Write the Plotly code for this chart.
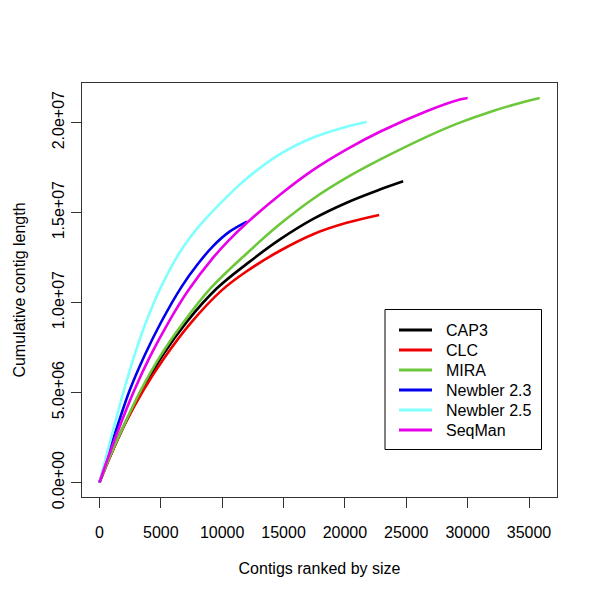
import plotly.graph_objects as go

# Data (x = contig rank, y = cumulative length in bp)
cap3_x = [0, 870, 2090, 3580, 5080, 7114, 9552, 12000, 14710, 17420, 20140, 22850, 24745]
cap3_y = [0, 1.46e6, 3.29e6, 5.23e6, 7.0e6, 8.93e6, 10.78e6, 12.15e6, 13.51e6, 14.65e6, 15.55e6, 16.28e6, 16.74e6]

clc_x = [0, 870, 2090, 3580, 5350, 7382, 9960, 12000, 14710, 17420, 20140, 22790]
clc_y = [0, 1.44e6, 3.27e6, 5.13e6, 6.99e6, 8.82e6, 10.68e6, 11.74e6, 12.88e6, 13.8e6, 14.43e6, 14.87e6]

mira_x = [0, 870, 2090, 3394, 4940, 6837, 9010, 12000, 14710, 17420, 20140, 22850, 26650, 29360, 32070, 34790, 35870]
mira_y = [0, 1.48e6, 3.33e6, 5.16e6, 7.01e6, 8.89e6, 10.76e6, 12.73e6, 14.36e6, 15.77e6, 16.94e6, 17.94e6, 19.21e6, 20.0e6, 20.65e6, 21.19e6, 21.37e6]

n23_x = [0, 650, 1547, 2450, 3650, 5000, 6700, 8000, 9280, 10600, 12020]
n23_y = [0, 1.43e6, 3.31e6, 5.10e6, 7.02e6, 8.88e6, 10.89e6, 12.13e6, 13.15e6, 13.94e6, 14.5e6]

n25_x = [0, 545, 1278, 1953, 2767, 3720, 4940, 6430, 7382, 8603, 10776, 12000, 14710, 17420, 20140, 21770]
n25_y = [0, 1.44e6, 3.33e6, 5.02e6, 6.89e6, 8.78e6, 10.76e6, 12.67e6, 13.62e6, 14.62e6, 16.14e6, 16.9e6, 18.25e6, 19.17e6, 19.77e6, 20.03e6]

seqman_x = [0, 733, 1766, 2850, 4127, 5616, 7245, 9280, 10500, 12000, 14710, 17420, 20140, 22850, 26650, 29360, 30000]
seqman_y = [0, 1.45e6, 3.33e6, 5.15e6, 7.01e6, 8.89e6, 10.68e6, 12.51e6, 13.43e6, 14.42e6, 15.99e6, 17.37e6, 18.51e6, 19.49e6, 20.63e6, 21.28e6, 21.37e6]

series_names = ["CAP3", "CLC", "MIRA", "Newbler 2.3", "Newbler 2.5", "SeqMan"]
series_x = [cap3_x, clc_x, mira_x, n23_x, n25_x, seqman_x]
series_y = [cap3_y, clc_y, mira_y, n23_y, n25_y, seqman_y]
series_colors = ["#000000", "#EE0000", "#6CC83A", "#0000EE", "#80FFFF", "#E800E8"]

x_ticks = [0, 5000, 10000, 15000, 20000, 25000, 30000, 35000]
y_ticks = [0, 5e6, 10e6, 15e6, 20e6]
y_tick_labels = ["0.0e+00", "5.0e+06", "1.0e+07", "1.5e+07", "2.0e+07"]

FONT = "Liberation Sans, Arial, Helvetica, sans-serif"

# figure geometry (pixels); the page body has an 8px margin
OFF = 8
W, H = 600 - OFF, 600 - OFF
ML, MR, MT, MB = 82 - OFF, 43, 83 - OFF, 103
PW, PH = W - ML - MR, H - MT - MB


def px2paper_x(px):
    return (px - OFF - ML) / PW


def px2paper_y(py):
    return (H - MB - (py - OFF)) / PH


fig = go.Figure()
for name, xs, ys, col in zip(series_names, series_x, series_y, series_colors):
    fig.add_trace(go.Scatter(
        x=xs, y=ys, mode="lines", name=name, showlegend=False,
        line=dict(color=col, width=2.6, shape="spline", smoothing=1.0),
    ))

# legend drawn in the style of R's legend(): framed box, line samples, labels
shapes = [dict(
    type="rect", xref="paper", yref="paper",
    x0=px2paper_x(385), x1=px2paper_x(541.5),
    y0=px2paper_y(449.5), y1=px2paper_y(309.5),
    line=dict(color="black", width=1), fillcolor="white", layer="above",
)]
annotations = []
for i, (name, col) in enumerate(zip(series_names, series_colors)):
    yc = 330 + 20 * i
    shapes.append(dict(
        type="line", xref="paper", yref="paper",
        x0=px2paper_x(399), x1=px2paper_x(432),
        y0=px2paper_y(yc), y1=px2paper_y(yc),
        line=dict(color=col, width=3), layer="above",
    ))
    annotations.append(dict(
        xref="paper", yref="paper", x=px2paper_x(444), y=px2paper_y(yc),
        xanchor="left", yanchor="middle", text=name, showarrow=False,
        font=dict(family=FONT, size=16, color="black"),
    ))

fig.update_layout(
    width=W, height=H,
    margin=dict(l=ML, r=MR, t=MT, b=MB),
    paper_bgcolor="white", plot_bgcolor="white",
    font=dict(family=FONT, size=16, color="black"),
    showlegend=False,
    shapes=shapes, annotations=annotations,
    xaxis=dict(
        range=[-1420, 37280], tickmode="array", tickvals=x_ticks,
        ticktext=[str(v) for v in x_ticks],
        showgrid=False, zeroline=False, automargin=False,
        showline=True, mirror=True, linecolor="#333333", linewidth=1,
        ticks="outside", ticklen=10, tickcolor="#333333",
        ticklabelstandoff=11,
        title=dict(text="Contigs ranked by size", standoff=22,
                   font=dict(family=FONT, size=16)),
    ),
    yaxis=dict(
        range=[-800000, 22200000], tickmode="array", tickvals=y_ticks,
        ticktext=y_tick_labels, tickangle=-90,
        showgrid=False, zeroline=False, automargin=False,
        showline=True, mirror=True, linecolor="#333333", linewidth=1,
        ticks="outside", ticklen=10, tickcolor="#333333",
        ticklabelstandoff=1,
        title=dict(text="Cumulative contig length", standoff=19,
                   font=dict(family=FONT, size=16)),
    ),
)

fig.write_html("out.html")
